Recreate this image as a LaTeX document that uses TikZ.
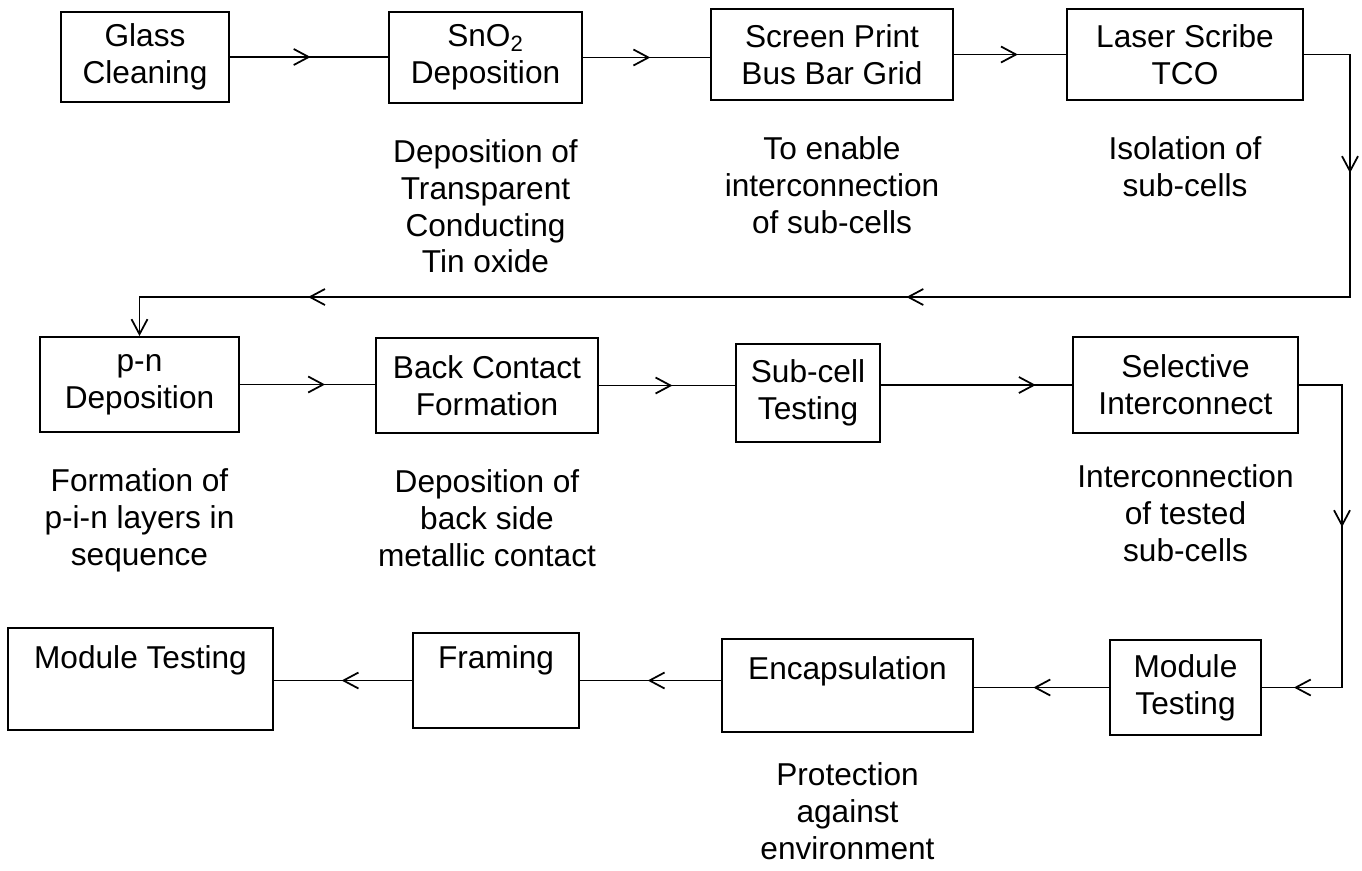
\documentclass[tikz,border=0pt]{standalone}
\usepackage{fontspec}
\setmainfont{Liberation Sans}
\usetikzlibrary{arrows.meta,positioning,decorations.markings}

\begin{document}
\begin{tikzpicture}[
    x=0.02cm, y=-0.02cm,
    font=\fontsize{18}{21}\selectfont,
    >={Straight Barb[length=3mm, width=3.2mm]},
    stage/.style={rectangle, draw, line width=1.1pt, align=center, inner sep=0pt},
    note/.style={align=center, inner sep=0pt},
    link/.style={line width=1pt},
    midarrow/.style={postaction={decorate, decoration={markings, mark=at position #1 with {\arrow{>}}}}},
]
    \useasboundingbox (0,0) rectangle (1362,870);

    % first row
    \node[stage, minimum width=3.36cm, minimum height=1.8cm] (glass) at (145,57) {Glass\\Cleaning};
    \node[stage, minimum width=3.86cm, minimum height=1.82cm] (sno2) at (485.5,57.5) {SnO\textsubscript{2}\\Deposition};
    \node[stage, minimum width=4.84cm, minimum height=1.82cm] (screen) at (832,54.5) {Screen Print\\Bus Bar Grid};
    \node[stage, minimum width=4.72cm, minimum height=1.82cm] (laser) at (1185,54.5) {Laser Scribe\\TCO};

    \node[note, below=0.7cm of sno2] (sno2note) {Deposition of\\Transparent\\Conducting\\Tin oxide};
    \node[note, below=0.7cm of screen] (screennote) {To enable\\interconnection\\of sub-cells};
    \node[note, below=0.7cm of laser] (lasernote) {Isolation of\\sub-cells};

    % second row
    \node[stage, minimum width=3.98cm, minimum height=1.9cm] (pn) at (139.5,384.5) {p-n\\Deposition};
    \node[stage, minimum width=4.44cm, minimum height=1.9cm] (back) at (487,385.5) {Back Contact\\Formation};
    \node[stage, minimum width=2.88cm, minimum height=1.96cm] (sub) at (808,393) {Sub-cell\\Testing};
    \node[stage, minimum width=4.5cm, minimum height=1.92cm] (sel) at (1185.5,385) {Selective\\Interconnect};

    \node[note, below=0.7cm of pn] (pnnote) {Formation of\\p-i-n layers in\\sequence};
    \node[note, below=0.7cm of back] (backnote) {Deposition of\\back side\\metallic contact};
    \node[note, below=0.6cm of sel] (selnote) {Interconnection\\of tested\\sub-cells};

    % third row
    \node[stage, minimum width=3.02cm, minimum height=1.9cm] (mod) at (1185.5,687.5) {Module\\Testing};
    \node[stage, minimum width=5.02cm, text height=0.8cm, text depth=1.06cm] (encap) at (847.5,685.5) {Encapsulation};
    \node[stage, minimum width=3.32cm, text height=0.7cm, text depth=1.2cm] (frame) at (496,680.5) {Framing};
    \node[stage, minimum width=5.3cm, text height=0.8cm, text depth=1.24cm] (final) at (140.5,679) {Module Testing};

    \node[note, below=0.58cm of encap] (encapnote) {Protection\\against\\environment};

    \coordinate (c1) at (1350,297);
    \coordinate (c2) at (1342,687.5);

    \draw[link, midarrow=0.51] (glass.east) -- (glass.east -| sno2.west);
    \draw[link, midarrow=0.53] (sno2.east) -- (sno2.east -| screen.west);
    \draw[link, midarrow=0.57] (screen.east) -- (laser.west);
    \draw[link, midarrow=0.107, midarrow=0.476, midarrow=0.865, ->] (laser.east) -| (c1) -| (pn.north);
    \draw[link, midarrow=0.63] (pn.east) -- (pn.east -| back.west);
    \draw[link, midarrow=0.54] (back.east) -- (back.east -| sub.west);
    \draw[link, midarrow=0.81] (sub.east |- sel.west) -- (sel.west);
    \draw[link, midarrow=0.435, midarrow=0.925] (sel.east) -| (c2) -- (mod.east);
    \draw[link, midarrow=0.56] (mod.west) -- (mod.west -| encap.east);
    \draw[link, midarrow=0.52] (encap.west |- frame.east) -- (frame.east);
    \draw[link, midarrow=0.51] (frame.west) -- (frame.west -| final.east);
\end{tikzpicture}
\end{document}
